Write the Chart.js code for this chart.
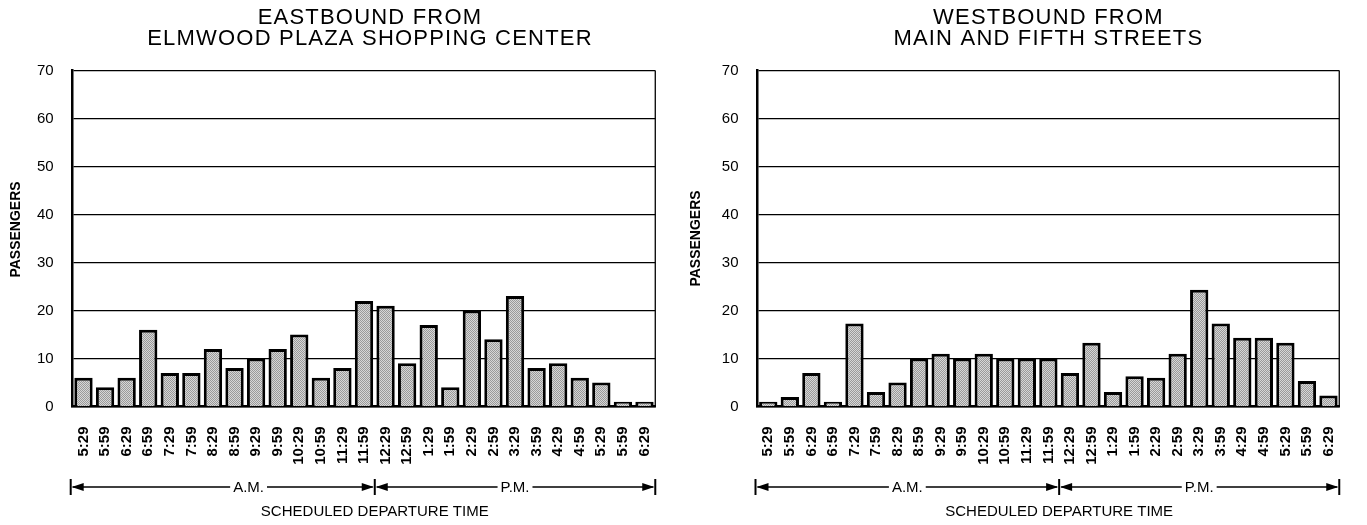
<!DOCTYPE html>
<html><head><meta charset="utf-8">
<script src="https://cdn.jsdelivr.net/npm/chart.js@4.4.1/dist/chart.umd.min.js"></script>
<style>
html,body{margin:0;padding:0;background:#fff;width:1367px;height:525px;overflow:hidden;}
canvas{position:absolute;top:0;}
#east{left:0;}
#west{left:683px;}
</style></head><body>
<canvas id="east" width="683" height="525"></canvas>
<canvas id="west" width="684" height="525"></canvas>
<script>
const departureTimes = ['5:29','5:59','6:29','6:59','7:29','7:59','8:29','8:59','9:29','9:59','10:29','10:59','11:29','11:59',
  '12:29','12:59','1:29','1:59','2:29','2:59','3:29','3:59','4:29','4:59','5:29','5:59','6:29'];
const eastboundPassengers = [6,4,6,16,7,7,12,8,10,12,15,6,8,22,21,9,17,4,20,14,23,8,9,6,5,1,1];
const westboundPassengers = [1,2,7,1,17.3,3,5,10,11,10,11,10,10,10,7,13.3,3,6.3,6,11,24.3,17.3,14.3,14.3,13.3,5.3,2.3];
const eastTitle = ['EASTBOUND FROM', 'ELMWOOD PLAZA SHOPPING CENTER'];
const westTitle = ['WESTBOUND FROM', 'MAIN AND FIFTH STREETS'];
const periodLabels = ['A.M.', 'P.M.'];
const amDepartureCount = 14;
const yMax = 70;
const yStep = 10;
const yAxisTitle = 'PASSENGERS';
const xAxisTitle = 'SCHEDULED DEPARTURE TIME';

const FONT = '"Liberation Sans", Arial, Helvetica, sans-serif';

function stipple() {
  const c = document.createElement('canvas');
  c.width = 2; c.height = 2;
  const g = c.getContext('2d');
  g.fillStyle = '#d6d6d6'; g.fillRect(0, 0, 2, 2);
  g.fillStyle = '#9a9a9a'; g.fillRect(0, 0, 1, 1); g.fillRect(1, 1, 1, 1);
  return g.createPattern(c, 'repeat');
}

function decor(titleShift, yTitleShift, amFrac) {
  return {
    id: 'decor',
    beforeDraw(chart) {
      const tb = chart.titleBlock;
      if (tb && !tb.__spaced) {
        const orig = tb.draw;
        tb.draw = function (...args) {
          const c = this.ctx;
          c.save();
          c.translate(titleShift, 0);
          c.letterSpacing = '1.2px';
          orig.apply(this, args);
          c.restore();
        };
        tb.__spaced = true;
      }
      const ys = chart.scales.y;
      if (ys && !ys.__shifted) {
        const o = ys.drawTitle;
        ys.drawTitle = function (...args) {
          this.ctx.save();
          this.ctx.translate(0, yTitleShift);
          o.apply(this, args);
          this.ctx.restore();
        };
        ys.__shifted = true;
      }
    },
    afterDraw(chart) {
      const { ctx, chartArea: a, scales: { x } } = chart;
      ctx.save();
      ctx.strokeStyle = '#000';
      ctx.fillStyle = '#000';
      ctx.lineWidth = 1.3;
      ctx.beginPath(); ctx.moveTo(a.right, a.top); ctx.lineTo(a.right, a.bottom); ctx.stroke();

      const y = a.bottom + 80.5;
      const left = a.left - 2, right = a.right;
      const mid = (x.getPixelForValue(amDepartureCount - 1) + x.getPixelForValue(amDepartureCount)) / 2;
      ctx.font = '15px ' + FONT;
      ctx.textBaseline = 'middle';
      ctx.textAlign = 'center';
      function head(px, dir) {
        ctx.beginPath();
        ctx.moveTo(px, y);
        ctx.lineTo(px + dir * 12, y - 4);
        ctx.lineTo(px + dir * 12, y + 4);
        ctx.closePath();
        ctx.fill();
      }
      function seg(x1, x2, label, frac) {
        const lx = x1 + (x2 - x1) * frac;
        const w = ctx.measureText(label).width;
        ctx.lineWidth = 1.5;
        ctx.beginPath();
        ctx.moveTo(x1 + 2, y); ctx.lineTo(lx - w / 2 - 3, y);
        ctx.moveTo(lx + w / 2 + 3, y); ctx.lineTo(x2 - 2, y);
        ctx.stroke();
        head(x1 + 1, 1);
        head(x2 - 1, -1);
        ctx.fillText(label, lx, y + 0.5);
      }
      seg(left, mid, periodLabels[0], amFrac);
      seg(mid, right, periodLabels[1], 0.5);
      ctx.lineWidth = 2;
      [left, mid, right].forEach(px => {
        ctx.beginPath(); ctx.moveTo(px, y - 8); ctx.lineTo(px, y + 8); ctx.stroke();
      });
      ctx.font = '15px ' + FONT;
      ctx.fillText(xAxisTitle, mid, a.bottom + 105.5);
      ctx.restore();
    }
  };
}

function makeChart(id, titleLines, values, yWidth, rightPad, yTitlePad, titleShift, yTitleShift, amFrac) {
  return new Chart(document.getElementById(id), {
    type: 'bar',
    data: {
      labels: departureTimes,
      datasets: [{
        data: values,
        backgroundColor: stipple(),
        borderColor: '#000',
        borderWidth: 3,
        barPercentage: 0.85,
        categoryPercentage: 1
      }]
    },
    options: {
      responsive: false,
      animation: false,
      devicePixelRatio: 1,
      layout: { padding: { left: 0, right: rightPad, top: 0, bottom: 0 } },
      plugins: {
        legend: { display: false },
        tooltip: { enabled: false },
        title: {
          display: true,
          text: titleLines,
          fullSize: false,
          color: '#000',
          font: { family: FONT, size: 22, weight: 'normal', lineHeight: 21 / 22 },
          padding: { top: 7.5, bottom: 21 }
        }
      },
      scales: {
        x: {
          grid: { display: false, drawTicks: false },
          border: { display: true, color: '#000', width: 2.5 },
          ticks: {
            color: '#000',
            font: { family: FONT, size: 15, weight: 'bold' },
            minRotation: 90, maxRotation: 90,
            padding: 20,
            autoSkip: false
          },
          afterFit(s) { s.height = 118.5; }
        },
        y: {
          min: 0, max: yMax,
          ticks: { stepSize: yStep, color: '#000', font: { family: FONT, size: 15 }, padding: 19 },
          grid: { color: '#000', lineWidth: 1.2, drawTicks: false },
          border: { display: true, color: '#000', width: 2.5 },
          title: {
            display: true, text: yAxisTitle, color: '#000',
            font: { family: FONT, size: 14, weight: 'bold' },
            padding: { top: yTitlePad, bottom: 0 }
          },
          afterFit(s) { s.width = yWidth; }
        }
      }
    },
    plugins: [decor(titleShift, yTitleShift, amFrac)]
  });
}

makeChart('east', eastTitle, eastboundPassengers, 72.7, 20, 8, 6, -9, 0.585);
makeChart('west', westTitle, westboundPassengers, 74.5, 11, 5, 0, 0, 0.5);
</script>
</body></html>
